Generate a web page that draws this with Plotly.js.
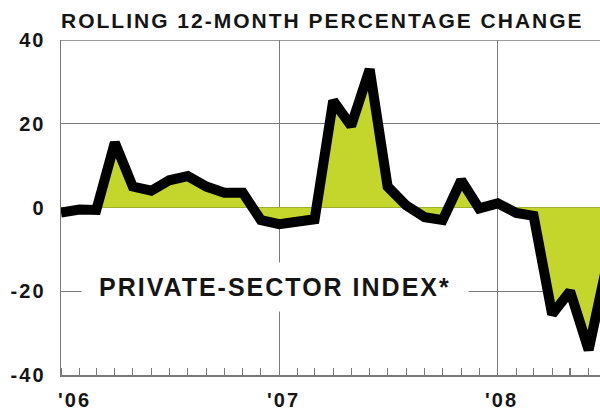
<!DOCTYPE html>
<html>
<head>
<meta charset="utf-8">
<script src="https://cdn.plot.ly/plotly-3.0.1.min.js"></script>
<style>
html,body{margin:0;padding:0;background:#fff;}
#chart{width:600px;height:412px;}
#chart text{letter-spacing:2px;}
</style>
</head>
<body>
<div id="chart"></div>
<script>
const months = ["2006-01","2006-02","2006-03","2006-04","2006-05","2006-06","2006-07","2006-08","2006-09","2006-10","2006-11","2006-12",
  "2007-01","2007-02","2007-03","2007-04","2007-05","2007-06","2007-07","2007-08","2007-09","2007-10","2007-11","2007-12",
  "2008-01","2008-02","2008-03","2008-04","2008-05","2008-06","2008-07"];
const pctChange = [-1.2, -0.5, -0.6, 15.5, 5, 4, 6.5, 7.5, 5, 3.5, 3.5, -3,
  -4, -3.5, -2.8, 25.5, 19.5, 33, 5, 0.5, -2.3, -3, 6.5, -0.2,
  1, -1.3, -2, -25.5, -20, -34, -14];
const yTickVals = [-40, -20, 0, 20, 40];
const yTickText = ["-40", "-20", "0", "20", "40"];
const xLabelDates = ["2006-01-01", "2007-01-01", "2008-01-01"];
const xLabelText = ["'06", "'07", "'08"];

const font = "Liberation Sans, Arial, sans-serif";
const grid = "#7a7a7a";
const ink = "#151515";

const trace = {
  x: months.map(m => m + "-01"),
  y: pctChange,
  type: "scatter",
  mode: "lines",
  fill: "tozeroy",
  fillcolor: "#c4d62c",
  line: {color: "#000000", width: 10},
  hoverinfo: "skip"
};

const xLabelAnns = xLabelDates.map((d, i) => ({
  text: "<b>" + xLabelText[i] + "</b>",
  xref: "x", x: d,
  xanchor: i === 0 ? "left" : "center",
  xshift: i === 0 ? -2 : 4,
  yref: "paper", y: 0, yanchor: "middle", yshift: -25,
  showarrow: false,
  font: {family: font, size: 20, color: ink}
}));

const layout = {
  width: 600, height: 412,
  margin: {l: 61, r: 0, t: 40, b: 37},
  paper_bgcolor: "#ffffff",
  plot_bgcolor: "#ffffff",
  showlegend: false,
  title: {
    text: "<b>ROLLING 12-MONTH PERCENTAGE CHANGE</b>",
    font: {family: font, size: 21, color: ink},
    xref: "container", x: 61/600, xanchor: "left",
    yref: "container", y: 1 - 21/412, yanchor: "middle"
  },
  xaxis: {
    type: "date",
    range: ["2006-01-01", "2008-06-20"],
    tickvals: xLabelDates,
    showticklabels: false,
    ticks: "",
    showgrid: true, gridcolor: grid, gridwidth: 1.3,
    showline: true, linecolor: grid, linewidth: 1.5,
    zeroline: false,
    minor: {dtick: "M1", ticks: "inside", ticklen: 7, tickcolor: grid, tickwidth: 1.2, showgrid: false},
    fixedrange: true
  },
  yaxis: {
    range: [-40, 40],
    tickvals: yTickVals,
    ticktext: yTickText.map(t => "<b>" + t + "</b>"),
    tickfont: {family: font, size: 20, color: ink},
    ticks: "", ticklabelstandoff: 10,
    showgrid: true, gridcolor: grid, gridwidth: 1.3,
    showline: true, linecolor: grid, linewidth: 1.5,
    zeroline: true, zerolinecolor: "#7d8a2e", zerolinewidth: 1,
    fixedrange: true
  },
  annotations: [{
    text: "<b>PRIVATE-SECTOR INDEX*</b>",
    xref: "paper", x: (275 - 61) / 539, xanchor: "center",
    yref: "y", y: -19, yanchor: "middle",
    showarrow: false,
    font: {family: font, size: 25, color: ink},
    bgcolor: "#ffffff",
    width: 386, height: 48, borderpad: 0
  }].concat(xLabelAnns),
  shapes: [{
    type: "line", xref: "paper", yref: "y", x0: 0, x1: 1, y0: 40, y1: 40,
    line: {color: grid, width: 1.5}
  }]
};

Plotly.newPlot("chart", [trace], layout, {displayModeBar: false, staticPlot: true});
</script>
</body>
</html>
